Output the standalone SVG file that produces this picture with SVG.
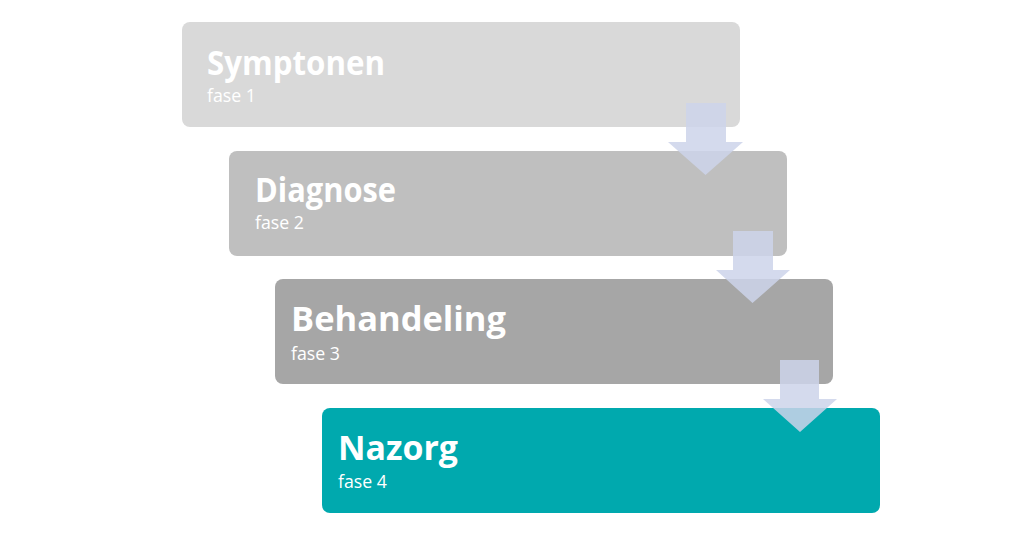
<svg xmlns="http://www.w3.org/2000/svg" width="1024" height="542" viewBox="0 0 1024 542">
<style>
.box{stroke:none}
.title{font-family:"Open Sans","Noto Sans","Liberation Sans",sans-serif;font-weight:700;font-size:34px;fill:#ffffff}
.sub{font-family:"Open Sans","Noto Sans","Liberation Sans",sans-serif;font-size:18px;fill:#ffffff}
.arrow{fill:#cdd3ea;fill-opacity:0.85}
</style>
<rect width="1024" height="542" fill="#ffffff"/>
<g id="node-symptonen">
<rect class="box" x="182" y="22" width="558" height="105" rx="8" fill="#d9d9d9"/>
<text class="title" x="207" y="75" textLength="178" lengthAdjust="spacingAndGlyphs">Symptonen</text>
<text class="sub" x="207" y="102" textLength="49" lengthAdjust="spacingAndGlyphs">fase 1</text>
</g>
<g id="node-diagnose">
<rect class="box" x="229" y="151" width="558" height="105" rx="8" fill="#bfbfbf"/>
<text class="title" x="255" y="202" textLength="141" lengthAdjust="spacingAndGlyphs">Diagnose</text>
<text class="sub" x="255" y="229" textLength="49" lengthAdjust="spacingAndGlyphs">fase 2</text>
</g>
<g id="node-behandeling">
<rect class="box" x="275" y="279" width="558" height="105" rx="8" fill="#a6a6a6"/>
<text class="title" x="291" y="331" textLength="215" lengthAdjust="spacingAndGlyphs">Behandeling</text>
<text class="sub" x="291" y="360" textLength="49" lengthAdjust="spacingAndGlyphs">fase 3</text>
</g>
<g id="node-nazorg">
<rect class="box" x="322" y="408" width="558" height="105" rx="8" fill="#00a9ae"/>
<text class="title" x="338" y="460" textLength="120" lengthAdjust="spacingAndGlyphs">Nazorg</text>
<text class="sub" x="338" y="488" textLength="49" lengthAdjust="spacingAndGlyphs">fase 4</text>
</g>
<g id="connectors">
<polygon class="arrow" points="686,103 726,103 726,142 743,142 705.5,175 668,142 686,142"/>
<polygon class="arrow" points="733,231 773,231 773,270 790,270 752.5,303 716,270 733,270"/>
<polygon class="arrow" points="780,360 819,360 819,399 837,399 800,432 763,399 780,399"/>
</g>
</svg>
